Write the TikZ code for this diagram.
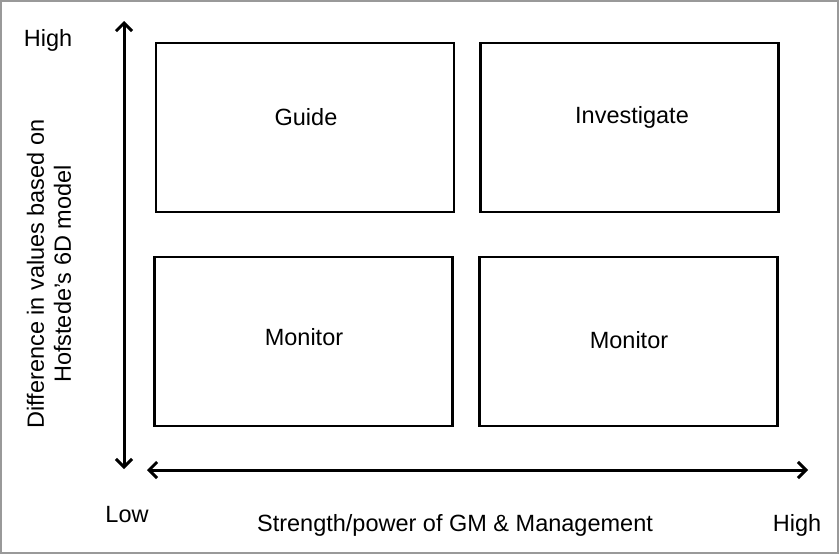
\documentclass[tikz,border=0pt]{standalone}
\usepackage{fontspec}
\setmainfont{Liberation Sans}
\usetikzlibrary{arrows.meta}
\begin{document}
\begin{tikzpicture}[x=1pt,y=-1pt,
  quad/.style={draw, line width=2.6pt, minimum width=298pt, minimum height=169pt, inner sep=0pt},
  lbl/.style={font=\fontsize{23.5}{27}\selectfont, inner sep=0pt},
  axis/.style={line width=3pt, {Straight Barb[length=8pt,width=16pt,line width=3pt]}-{Straight Barb[length=8pt,width=16pt,line width=3pt]}}]
\useasboundingbox (0,0) rectangle (839,554);
\draw[gray!80, line width=1.5pt] (1,1) rectangle (838,553);
\node[quad] (guide) at (305,127.5) {};
\node[quad] (inv) at (629.5,127.5) {};
\node[quad] (monl) at (303.5,341.5) {};
\node[quad] (monr) at (628.5,341.5) {};
\node[lbl] (tguide) at (306,117) {Guide};
\node[lbl] (tinv) at (632,117) {Investigate};
\node[lbl] (tmonl) at (304,337) {Monitor};
\node[lbl] (tmonr) at (629,340) {Monitor};
\coordinate (vtop) at (124,21);
\coordinate (vbot) at (124,469);
\coordinate (hl) at (147,470);
\coordinate (hr) at (808,470);
\draw[axis] (vbot) -- (vtop);
\draw[axis] (hl) -- (hr);
\node[lbl] (hhigh) at (48,40) {High};
\node[lbl] (low) at (127,515) {Low};
\node[lbl] (xhigh) at (797,525) {High};
\node[lbl] (xlabel) at (455,525) {Strength/power of GM \& Management};
\node[lbl, rotate=90, align=center, font=\fontsize{23.5}{27}\selectfont] (ylabel) at (49,274) {Difference in values based on\\Hofstede’s 6D model};
\end{tikzpicture}
\end{document}
